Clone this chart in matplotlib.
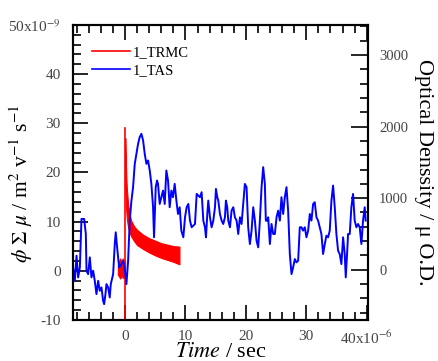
import matplotlib
matplotlib.use("Agg")
import matplotlib.pyplot as plt
from matplotlib.lines import Line2D
from matplotlib.ticker import MultipleLocator, FixedLocator

plt.rcParams['font.family'] = ['Liberation Serif', 'DejaVu Serif']
plt.rcParams['mathtext.fontset'] = 'stix'

# ---- TRMC (left axis, units of 1e-9 m^2 V^-1 s^-1) ----
trmc_pre_t = [-1.2, -1.0, -0.8, -0.6, -0.4, -0.2, 0.0]
trmc_pre_hi = [1.0, 2.0, 2.5, 1.5, 2.5, 2.0, 2.0]
trmc_pre_lo = [-0.8, -1.2, -1.6, -0.8, -1.5, -1.0, -1.5]

trmc_spike_t = [0.0, 0.0]
trmc_spike_y = [-10.0, 29.0]

trmc_t = [0.02, 0.1, 0.2, 0.3, 0.5, 0.8, 1.0, 1.5, 2.0, 3.0, 4.0, 5.0, 6.0, 7.0, 8.0, 9.0]
trmc_hi = [27.0, 23.0, 19.0, 16.5, 13.5, 11.2, 10.2, 9.0, 8.3, 7.3, 6.6, 6.1, 5.6, 5.3, 5.0, 4.9]
trmc_lo = [17.0, 14.0, 12.0, 10.5, 8.8, 7.6, 7.0, 6.0, 5.2, 4.4, 3.7, 3.1, 2.6, 2.2, 1.8, 1.3]

# ---- TAS (right axis, micro O.D.) ----
tas_t = [-8.6, -8.32, -8.04, -7.77, -7.49, -7.22, -6.78, -6.5, -6.39, -6.12, -5.84, -5.57,
         -5.29, -5.02, -4.74, -4.46, -4.19, -3.91, -3.64, -3.47, -3.25, -3.09, -2.81, -2.54,
         -2.37, -1.98, -1.71, -1.55, -1.32, -0.99, -0.61, -0.33, -0.06, 0.22, 0.50, 0.77,
         1.05, 1.32, 1.60, 1.87, 2.15, 2.42, 2.70, 2.98, 3.25, 3.53, 3.80, 4.08, 4.35, 4.63,
         4.79, 5.07, 5.29, 5.45, 5.73, 6.00, 6.28, 6.56, 6.83, 7.11, 7.38, 7.66, 7.93, 8.21,
         8.49, 8.76, 9.04, 9.31, 9.64, 9.92, 10.19, 10.47, 10.74, 11.02, 11.29, 11.57,
         11.85, 12.12, 12.40, 12.67, 12.95, 13.22, 13.39, 13.61, 13.77, 14.05, 14.32, 14.60,
         14.88, 15.04, 15.26, 15.43, 15.70, 15.98, 16.25, 16.53, 16.69, 16.91, 17.08, 17.36,
         17.63, 17.91, 18.18, 18.46, 18.73, 19.01, 19.28, 19.56, 19.83, 20.11, 20.38, 20.66,
         20.94, 21.21, 21.49, 21.76, 22.04, 22.31, 22.59, 22.86, 23.14, 23.30, 23.53, 23.69,
         23.97, 24.24, 24.52, 24.79, 25.07, 25.34, 25.62, 25.89, 26.17, 26.44, 26.72, 26.99,
         27.27, 27.55, 27.82, 28.10, 28.37, 28.65, 28.92, 29.20, 29.47, 29.75, 30.02, 30.30,
         30.58, 30.85, 31.13, 31.40, 31.68, 31.95, 32.23, 32.50, 32.78, 33.06, 33.33, 33.61,
         33.88, 34.16, 34.43, 34.71, 34.98, 35.26, 35.53, 35.81, 36.09, 36.36, 36.53, 36.75,
         36.91, 37.19, 37.46, 37.74, 38.01, 38.29, 38.57, 38.84, 39.12, 39.39, 39.67, 39.83]
tas_od = [32, -154, 196, -107, 32, 710, 710, 500, -14, -61, 173, -107,
          -14, -154, -341, -154, -294, -247, -434, -481, -341, -201, -247, -387,
          -201, -61, 359, 523, 313, 32, 79, 126, 9, -201, 126, 686,
          966, 1153, 1479, 1619, 1759, 1853, 1899, 1806, 1619, 1479, 1526, 1386, 1199, 873,
          453, 1153, 1246, 1199, 919, 1013, 1106, 919, 1386, 1246, 873, 1106, 1013, 1199,
          966, 779, 873, 546, 453, 733, 873, 919, 686, 593, 616, 639,
          1059, 1036, 1013, 1083, 686, 593, 453, 779, 966, 733, 593, 686,
          873, 1129, 1013, 966, 779, 686, 639, 733, 966, 873, 686, 593,
          826, 873, 733, 686, 499, 733, 639, 919, 1199, 1153, 593, 359,
          546, 873, 686, 406, 313, 686, 1153, 1433, 1199, 686, 686, 733,
          359, 639, 499, 499, 733, 826, 686, 1013, 779, 1013, 1153, 826,
          219, -61, 33, 149, 103, 126, 593, 593, 546, 593, 453, 546,
          779, 686, 919, 943, 733, 686, 593, 499, 219, 359, 476, 453,
          546, 966, 1176, 873, 499, 266, 219, 79, 453, 219, -107, 219,
          499, 499, 873, 1059, 686, 593, 639, 593, 359, 686, 873, 686]

x_ticks = [0, 10, 20, 30, 40]
x_ticklabels = ['0', '10', '20', '30', '40x10$^{-6}$']
yl_ticks = [-10, 0, 10, 20, 30, 40, 50]
yl_ticklabels = ['-10', '0', '10', '20', '30', '40', '50x10$^{-9}$']
yr_ticks = [0, 1000, 2000, 3000]
yr_ticklabels = ['0', '1000', '2000', '3000']

fig = plt.figure(figsize=(4.38, 3.61), dpi=100)
ax = fig.add_axes([0.167, 0.114, 0.673, 0.817])
ax2 = ax.twinx()

red = '#ff0000'
blue = '#0000ff'
tick_col = '#444444'

ax.fill_between(trmc_pre_t, trmc_pre_lo, trmc_pre_hi, color=red, lw=0.8, ec=red)
ax.fill_between(trmc_t, trmc_lo, trmc_hi, color=red, lw=0.8, ec=red)
ax.plot(trmc_spike_t, trmc_spike_y, color=red, lw=1.2)

ax2.plot(tas_t, tas_od, color=blue, lw=1.4)

ax.set_xlim(-8.6, 40.2)
ax.set_ylim(-10, 50)
ax2.set_ylim(-700, 3420)

ax.xaxis.set_major_locator(FixedLocator(x_ticks))
ax.set_xticklabels(x_ticklabels)
ax.xaxis.set_minor_locator(MultipleLocator(2))
ax.yaxis.set_major_locator(FixedLocator(yl_ticks))
ax.set_yticklabels(yl_ticklabels)
ax.yaxis.set_minor_locator(MultipleLocator(2))
ax2.yaxis.set_major_locator(FixedLocator(yr_ticks))
ax2.set_yticklabels(yr_ticklabels)
ax2.yaxis.set_minor_locator(MultipleLocator(200))

ax.tick_params(axis='both', which='major', direction='in', length=11, width=1.2,
               labelsize=11, labelcolor=tick_col)
ax.tick_params(axis='y', which='major', pad=9)
ax.tick_params(axis='x', which='major', pad=7)
ax.tick_params(axis='both', which='minor', direction='in', length=6, width=1.2)
ax.tick_params(axis='x', which='both', top=True)
ax.tick_params(axis='y', which='both', right=False)
ax2.tick_params(axis='y', which='major', direction='in', length=12, width=1.2,
                labelsize=10.5, labelcolor=tick_col, pad=8)
ax2.tick_params(axis='y', which='minor', direction='in', length=6, width=1.2)

for a in (ax, ax2):
    for s in a.spines.values():
        s.set_linewidth(1.5)

ax.set_xlabel('$\\mathit{Time}$ / sec', fontsize=16)
ax.xaxis.set_label_coords(0.5, -0.08)
ax.set_ylabel('$\\phi\\ \\Sigma\\ \\mu$ / m$^{2}$ v$^{-1}$ s$^{-1}$', fontsize=15.5)
ax.yaxis.set_label_coords(-0.13, 0.46)
ax2.set_ylabel('Optical Denssity / \u03bc O.D.', fontsize=16, rotation=270, labelpad=18)

handles = [Line2D([], [], color=red, lw=1.2), Line2D([], [], color=blue, lw=1.2)]
ax2.legend(handles, ['1_TRMC', '1_TAS'], loc='upper left', bbox_to_anchor=(0.045, 0.95),
           frameon=False, fontsize=10.5, handlelength=2.6, handletextpad=0.15,
           labelspacing=0.35, borderaxespad=0.0)

fig.savefig('out.png', dpi=100)
